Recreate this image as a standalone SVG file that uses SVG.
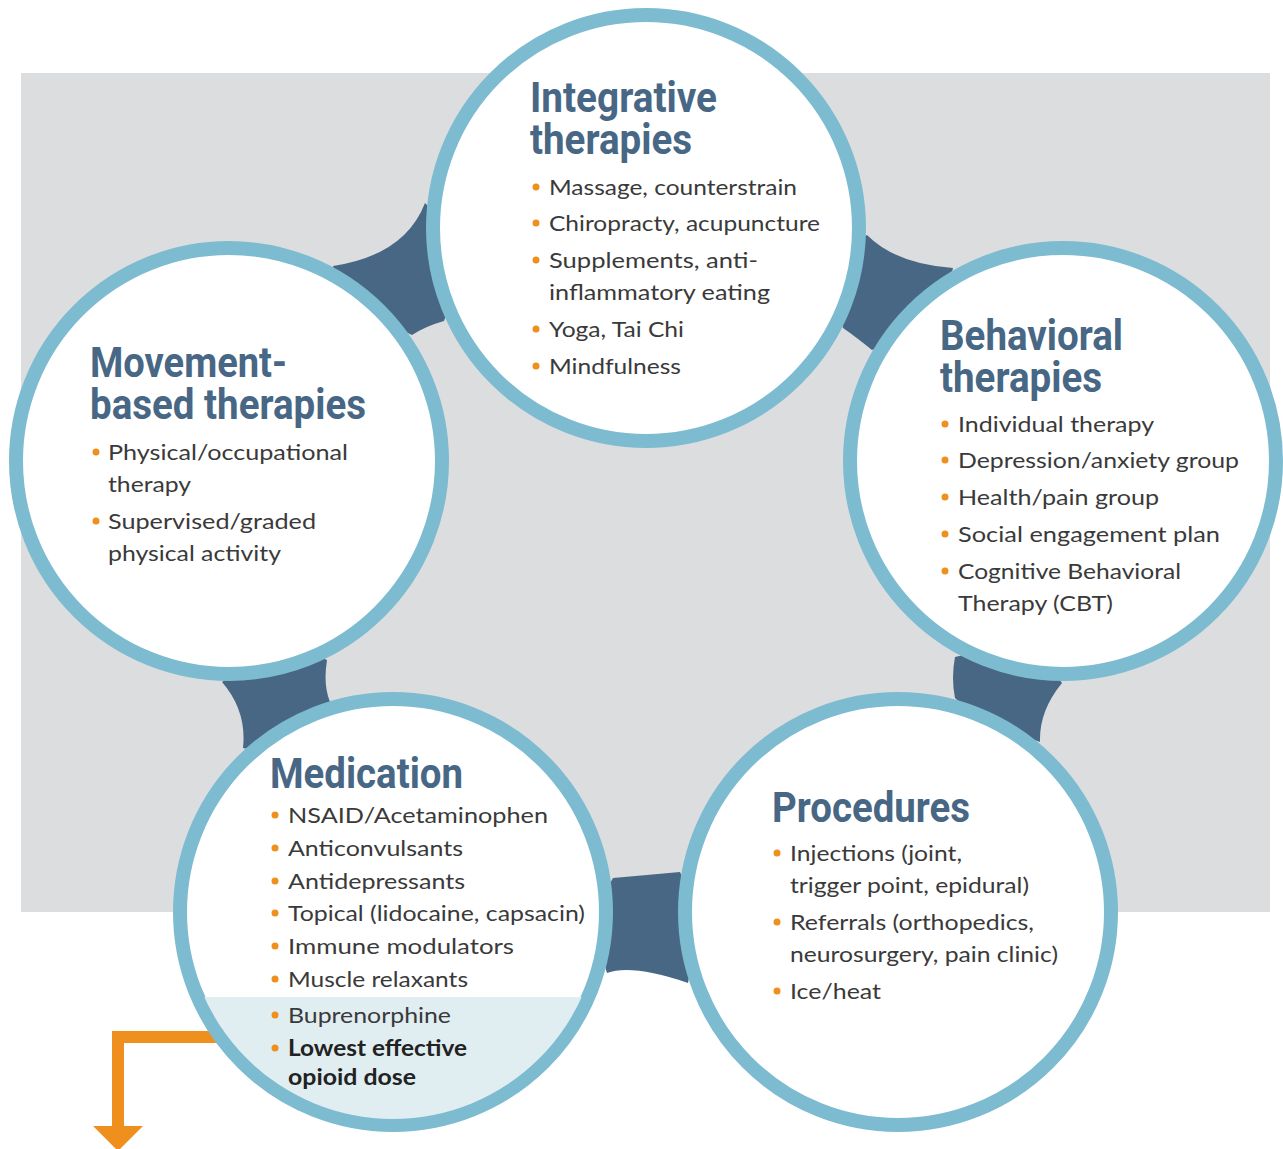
<svg xmlns="http://www.w3.org/2000/svg" width="1283" height="1149" viewBox="0 0 1283 1149">
<defs>
<style>
.ring{fill:#ffffff;stroke:#7dbbd1;stroke-width:14}
.conn{fill:#476785}
.title{font-family:Roboto,"Liberation Sans",sans-serif;font-weight:700;font-size:43px;fill:#476785}
.body{font-family:Lato,"Noto Sans",sans-serif;font-size:22px;fill:#3a3a3a}
.bold{font-weight:700;fill:#222}
.dot{fill:#ef8f1d}
</style>
<clipPath id="medClip"><circle cx="393" cy="912" r="207"/></clipPath>
</defs>
<rect x="21" y="73" width="1249" height="839" fill="#dcdddf"/>
<g id="connectors">
<path class="conn" d="M425,203 Q405,255 333,266 L340,300 L412,335 Q426,326 444,321 L470,250 Z"/>
<path class="conn" d="M867,235 Q896,264 953,268 L940,320 L872,350 Q856,337 843,328 L820,260 Z"/>
<path class="conn" d="M222,682 Q247,711 243,748 L300,760 L330,702 Q323,685 327,660 L280,640 Z"/>
<path class="conn" d="M955,657 Q951,678 955,698 L980,720 L1040,742 Q1039,711 1062,683 L1030,640 Z"/>
<path class="conn" d="M613,878 Q647,875 680,872 L700,920 L688,983 Q632,964 607,973 L590,920 Z"/>
<g id="arrow" fill="#ef8f1d">
<path d="M240,1037 H118 V1130" fill="none" stroke="#ef8f1d" stroke-width="12"/>
<polygon points="93,1126 143,1126 118,1151"/>
</g>
</g>
<g id="integrative">
<circle class="ring" cx="646" cy="228" r="213"/>
<text class="title" x="530" y="112" textLength="187" lengthAdjust="spacingAndGlyphs">Integrative</text>
<text class="title" x="530" y="154" textLength="162" lengthAdjust="spacingAndGlyphs">therapies</text>
<circle class="dot" cx="536" cy="187" r="3.5"/><text class="body" x="549" y="195" textLength="248" lengthAdjust="spacingAndGlyphs">Massage, counterstrain</text>
<circle class="dot" cx="536" cy="223" r="3.5"/><text class="body" x="549" y="231" textLength="271" lengthAdjust="spacingAndGlyphs">Chiropracty, acupuncture</text>
<circle class="dot" cx="536" cy="260" r="3.5"/><text class="body" x="549" y="268" textLength="209" lengthAdjust="spacingAndGlyphs">Supplements, anti-</text>
<text class="body" x="549" y="300" textLength="221" lengthAdjust="spacingAndGlyphs">inflammatory eating</text>
<circle class="dot" cx="536" cy="329" r="3.5"/><text class="body" x="549" y="337" textLength="135" lengthAdjust="spacingAndGlyphs">Yoga, Tai Chi</text>
<circle class="dot" cx="536" cy="366" r="3.5"/><text class="body" x="549" y="374" textLength="132" lengthAdjust="spacingAndGlyphs">Mindfulness</text>
</g>
<g id="movement">
<circle class="ring" cx="229" cy="461" r="213"/>
<text class="title" x="90" y="377" textLength="197" lengthAdjust="spacingAndGlyphs">Movement-</text>
<text class="title" x="90" y="419" textLength="276" lengthAdjust="spacingAndGlyphs">based therapies</text>
<circle class="dot" cx="96" cy="452" r="3.5"/><text class="body" x="108" y="460" textLength="240" lengthAdjust="spacingAndGlyphs">Physical/occupational</text>
<text class="body" x="108" y="492" textLength="83" lengthAdjust="spacingAndGlyphs">therapy</text>
<circle class="dot" cx="96" cy="521" r="3.5"/><text class="body" x="108" y="529" textLength="208" lengthAdjust="spacingAndGlyphs">Supervised/graded</text>
<text class="body" x="108" y="561" textLength="173" lengthAdjust="spacingAndGlyphs">physical activity</text>
</g>
<g id="behavioral">
<circle class="ring" cx="1063" cy="461" r="213"/>
<text class="title" x="940" y="350" textLength="183" lengthAdjust="spacingAndGlyphs">Behavioral</text>
<text class="title" x="940" y="392" textLength="162" lengthAdjust="spacingAndGlyphs">therapies</text>
<circle class="dot" cx="945" cy="424" r="3.5"/><text class="body" x="958" y="432" textLength="196" lengthAdjust="spacingAndGlyphs">Individual therapy</text>
<circle class="dot" cx="945" cy="460" r="3.5"/><text class="body" x="958" y="468" textLength="281" lengthAdjust="spacingAndGlyphs">Depression/anxiety group</text>
<circle class="dot" cx="945" cy="497" r="3.5"/><text class="body" x="958" y="505" textLength="201" lengthAdjust="spacingAndGlyphs">Health/pain group</text>
<circle class="dot" cx="945" cy="534" r="3.5"/><text class="body" x="958" y="542" textLength="262" lengthAdjust="spacingAndGlyphs">Social engagement plan</text>
<circle class="dot" cx="945" cy="571" r="3.5"/><text class="body" x="958" y="579" textLength="223" lengthAdjust="spacingAndGlyphs">Cognitive Behavioral</text>
<text class="body" x="958" y="611" textLength="155" lengthAdjust="spacingAndGlyphs">Therapy (CBT)</text>
</g>
<g id="medication">
<circle class="ring" cx="393" cy="912" r="213"/>
<rect x="180" y="997" width="430" height="140" fill="#e0eef2" clip-path="url(#medClip)"/>
<text class="title" x="270" y="788" textLength="193" lengthAdjust="spacingAndGlyphs">Medication</text>
<circle class="dot" cx="275" cy="815" r="3.5"/><text class="body" x="288" y="823" textLength="260" lengthAdjust="spacingAndGlyphs">NSAID/Acetaminophen</text>
<circle class="dot" cx="275" cy="848" r="3.5"/><text class="body" x="288" y="856" textLength="175" lengthAdjust="spacingAndGlyphs">Anticonvulsants</text>
<circle class="dot" cx="275" cy="881" r="3.5"/><text class="body" x="288" y="889" textLength="177" lengthAdjust="spacingAndGlyphs">Antidepressants</text>
<circle class="dot" cx="275" cy="913" r="3.5"/><text class="body" x="288" y="921" textLength="297" lengthAdjust="spacingAndGlyphs">Topical (lidocaine, capsacin)</text>
<circle class="dot" cx="275" cy="946" r="3.5"/><text class="body" x="288" y="954" textLength="226" lengthAdjust="spacingAndGlyphs">Immune modulators</text>
<circle class="dot" cx="275" cy="979" r="3.5"/><text class="body" x="288" y="987" textLength="180" lengthAdjust="spacingAndGlyphs">Muscle relaxants</text>
<circle class="dot" cx="275" cy="1015" r="3.5"/><text class="body" x="288" y="1023" textLength="163" lengthAdjust="spacingAndGlyphs">Buprenorphine</text>
<circle class="dot" cx="275" cy="1048" r="3.5"/><text class="body bold" x="288" y="1056" textLength="179" lengthAdjust="spacingAndGlyphs">Lowest effective</text>
<text class="body bold" x="288" y="1085" textLength="128" lengthAdjust="spacingAndGlyphs">opioid dose</text>
</g>
<g id="procedures">
<circle class="ring" cx="898" cy="912" r="213"/>
<text class="title" x="772" y="822" textLength="198" lengthAdjust="spacingAndGlyphs">Procedures</text>
<circle class="dot" cx="777" cy="853" r="3.5"/><text class="body" x="790" y="861" textLength="172" lengthAdjust="spacingAndGlyphs">Injections (joint,</text>
<text class="body" x="790" y="893" textLength="239" lengthAdjust="spacingAndGlyphs">trigger point, epidural)</text>
<circle class="dot" cx="777" cy="922" r="3.5"/><text class="body" x="790" y="930" textLength="244" lengthAdjust="spacingAndGlyphs">Referrals (orthopedics,</text>
<text class="body" x="790" y="962" textLength="268" lengthAdjust="spacingAndGlyphs">neurosurgery, pain clinic)</text>
<circle class="dot" cx="777" cy="991" r="3.5"/><text class="body" x="790" y="999" textLength="91" lengthAdjust="spacingAndGlyphs">Ice/heat</text>
</g>
</svg>
